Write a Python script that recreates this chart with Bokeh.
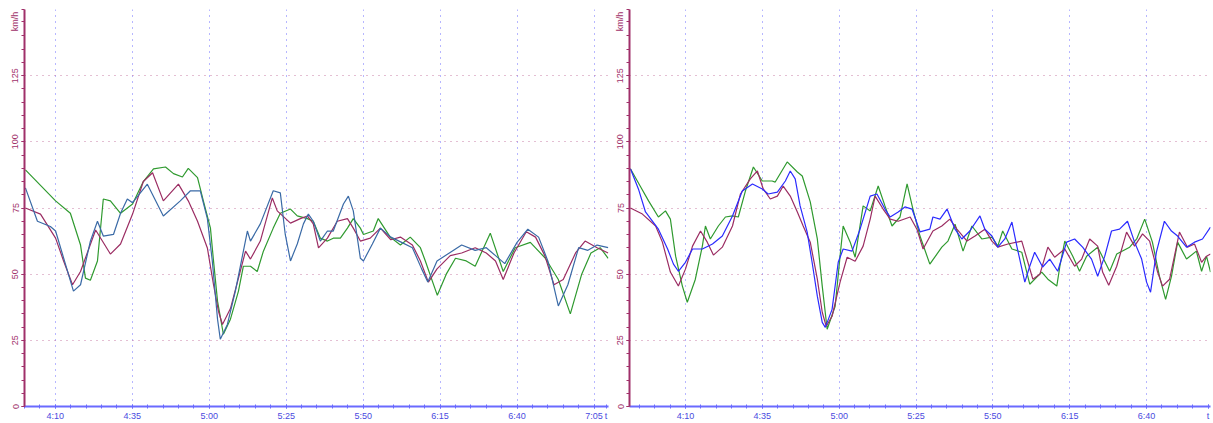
import math
from bokeh.plotting import figure
from bokeh.layouts import row
from bokeh.models import FixedTicker, Range1d
from bokeh.embed import file_html
from bokeh.resources import INLINE

# ---------------- data (time in minutes, e.g. 250 = 4:10; speed in km/h) ----------------
L_green_t = [240.3, 250.1, 254.9, 258.2, 259.8, 261.4, 263.7, 265.6, 267.9, 271.2, 275.1, 278.6, 281.9, 285.8,
             288.4, 291.3, 293.2, 296.2, 298.1, 300.4, 301.4, 302.7, 304.6, 306.9, 309.5, 311.1, 313.4, 315.6,
             317.6, 320.8, 323.1, 326.4, 328.6, 331.9, 333.8, 336.1, 338.4, 340.3, 342.6, 344.9, 346.8, 349.1,
             350.1, 353.3, 354.9, 358.8, 362.1, 365.3, 368.6, 370.2, 374.1, 377.0, 380.0, 383.5, 386.4, 391.3,
             395.5, 399.4, 404.3, 409.2, 413.4, 417.3, 421.0, 424.0, 427.0, 429.6]
L_green_v = [89.4, 77.7, 73.0, 61.0, 48.5, 47.7, 55.0, 78.4, 77.7, 73.0, 76.5, 85.0, 89.8, 90.5,
             88.0, 86.7, 90.0, 86.5, 77.7, 67.4, 55.0, 39.8, 27.3, 33.0, 43.6, 53.0, 53.0, 51.0,
             58.7, 67.4, 73.0, 74.6, 72.0, 71.0, 70.0, 63.6, 62.5, 63.6, 63.6, 67.4, 71.0, 67.4,
             65.0, 66.3, 71.0, 64.0, 61.0, 64.0, 60.0, 55.0, 42.0, 50.0, 56.0, 55.0, 53.0, 65.5,
             51.0, 60.0, 62.0, 56.0, 48.0, 35.0, 50.0, 58.0, 60.0, 56.0]

L_red_t = [240.3, 245.2, 250.1, 252.7, 255.6, 258.2, 263.1, 267.9, 271.2, 275.1, 278.6, 281.6, 285.1, 290.0,
           293.2, 296.2, 299.4, 301.4, 303.0, 304.3, 306.9, 309.5, 311.8, 313.4, 316.6, 320.5, 322.1, 326.4,
           329.6, 331.9, 333.8, 335.5, 338.4, 341.6, 344.9, 346.8, 349.1, 352.3, 355.6, 359.0, 362.1, 366.0,
           368.6, 371.2, 374.0, 378.3, 382.0, 386.4, 390.0, 393.0, 395.5, 399.0, 403.0, 406.0, 409.0, 412.0,
           415.0, 419.0, 422.1, 426.0, 429.6]
L_red_v = [75.0, 72.7, 63.6, 55.0, 46.0, 51.0, 66.7, 57.6, 61.4, 72.7, 85.0, 88.3, 77.7, 84.0,
           77.7, 70.0, 59.9, 46.0, 36.0, 31.0, 37.0, 48.5, 58.7, 55.7, 62.5, 78.8, 73.9, 69.3,
           71.0, 72.0, 69.0, 59.9, 63.6, 70.0, 71.0, 67.4, 62.5, 63.6, 67.4, 63.0, 64.0, 61.0,
           55.0, 47.0, 52.0, 57.0, 58.0, 60.0, 58.0, 55.0, 48.0, 58.0, 66.0, 64.0, 57.0, 46.0,
           48.0, 58.0, 62.5, 60.0, 58.0]

L_blue_t = [240.3, 244.2, 248.4, 250.1, 253.3, 255.9, 258.2, 261.4, 263.7, 265.6, 268.9, 271.2, 273.4, 275.1,
            279.9, 285.1, 290.6, 293.9, 297.1, 299.4, 301.0, 302.7, 303.6, 305.9, 308.5, 312.4, 313.4, 316.6,
            320.8, 323.1, 324.7, 326.4, 328.6, 330.6, 332.2, 333.8, 336.1, 338.4, 340.3, 343.6, 345.2, 346.8,
            349.1, 350.1, 353.0, 355.6, 359.0, 362.5, 366.0, 369.0, 371.0, 374.0, 378.0, 382.0, 386.4, 390.0,
            393.0, 396.0, 400.0, 403.5, 407.0, 410.0, 413.4, 416.5, 420.0, 423.0, 426.0, 429.6]
L_blue_v = [82.6, 70.0, 68.0, 66.3, 53.8, 43.6, 46.0, 62.5, 70.0, 64.4, 65.0, 73.0, 78.4, 77.0,
            84.0, 72.0, 77.7, 81.5, 81.5, 71.0, 55.0, 33.0, 25.4, 31.0, 43.6, 66.3, 62.5, 69.0,
            81.5, 80.7, 65.0, 55.0, 61.4, 69.0, 72.7, 70.0, 62.5, 66.3, 66.3, 76.5, 79.5, 73.9,
            56.0, 55.0, 61.4, 67.4, 64.0, 62.0, 60.0, 52.0, 47.0, 55.0, 58.0, 61.0, 59.0, 60.0,
            57.0, 54.0, 62.0, 67.0, 64.0, 55.0, 38.0, 46.0, 60.0, 59.0, 61.0, 60.0]

R_green_t = [232.1, 235.4, 238.0, 241.2, 243.5, 245.1, 246.8, 249.0, 250.6, 253.2, 255.5, 256.5, 258.1, 260.7,
             263.0, 265.3, 267.2, 269.5, 272.1, 275.0, 278.2, 279.2, 283.1, 286.4, 288.0, 290.6, 292.9, 294.5,
             296.1, 298.7, 300.3, 301.3, 303.6, 305.2, 307.8, 310.1, 312.7, 314.9, 317.2, 319.8, 322.1, 324.0,
             326.3, 329.5, 333.4, 335.4, 337.7, 340.3, 343.2, 346.4, 349.7, 351.6, 353.2, 356.2, 359.4, 362.0,
             365.9, 367.9, 370.8, 371.8, 373.4, 376.0, 378.2, 380.5, 384.1, 388.0, 390.3, 394.5, 396.8, 399.4,
             401.9, 404.2, 406.2, 408.1, 410.1, 413.0, 416.2, 417.9, 419.5, 420.8]
R_green_v = [89.8, 83.0, 77.7, 71.6, 73.9, 70.8, 56.8, 45.5, 39.4, 48.0, 60.6, 68.2, 63.3, 68.2,
             71.6, 72.0, 71.6, 81.4, 90.5, 85.2, 85.2, 84.8, 92.4, 88.6, 87.1, 77.3, 63.3, 45.5,
             29.2, 37.9, 56.8, 68.2, 62.1, 56.4, 75.8, 73.9, 83.3, 75.8, 68.2, 71.6, 84.1, 74.6,
             64.4, 53.8, 60.2, 62.5, 68.9, 58.7, 68.2, 63.3, 64.0, 60.6, 66.3, 59.5, 58.3, 46.2,
             50.8, 48.1, 45.5, 53.0, 62.5, 56.8, 51.1, 56.8, 60.2, 51.1, 57.6, 60.2, 63.3, 70.8,
             62.1, 49.2, 40.5, 49.2, 62.1, 55.7, 58.7, 51.1, 56.8, 50.8]

R_red_t = [232.1, 236.0, 240.3, 242.5, 245.1, 247.7, 250.0, 252.3, 254.9, 257.1, 259.1, 262.0, 265.3, 267.9,
           271.1, 273.4, 275.3, 277.6, 279.9, 281.8, 284.1, 286.4, 288.3, 290.6, 292.9, 294.5, 295.8, 297.7,
           300.3, 302.6, 305.2, 307.8, 310.1, 311.7, 314.3, 316.6, 319.2, 323.1, 325.3, 327.3, 330.5, 333.4,
           336.0, 338.3, 341.6, 344.2, 347.4, 349.7, 351.6, 354.9, 359.4, 361.4, 363.0, 365.3, 367.9, 370.1,
           373.4, 376.6, 378.9, 381.5, 384.1, 385.7, 387.7, 390.3, 393.5, 396.1, 398.7, 401.0, 403.6, 405.2,
           407.5, 410.7, 413.3, 415.6, 417.9, 419.5, 420.8]
R_red_v = [75.0, 72.7, 68.2, 62.1, 50.8, 45.5, 51.9, 60.6, 66.3, 62.1, 57.2, 60.2, 68.2, 80.3,
           86.0, 89.0, 82.2, 78.4, 79.5, 83.3, 79.5, 73.5, 68.2, 62.1, 48.1, 35.6, 30.3, 34.1,
           47.0, 56.4, 54.9, 60.6, 70.8, 79.5, 74.6, 70.8, 70.0, 71.6, 67.0, 59.5, 66.3, 68.2,
           70.8, 67.0, 62.5, 64.4, 67.0, 62.5, 60.2, 61.4, 62.5, 54.5, 48.1, 50.0, 60.2, 56.4,
           59.5, 53.0, 55.7, 63.3, 60.6, 50.8, 45.8, 53.0, 65.9, 60.6, 65.2, 62.5, 50.8, 45.5,
           48.1, 65.9, 60.2, 61.4, 54.5, 56.8, 57.6]

R_blue_t = [232.1, 234.7, 237.0, 241.2, 244.2, 246.1, 247.7, 250.0, 252.3, 255.5, 258.8, 262.0, 265.3, 268.5,
            271.8, 275.0, 276.9, 279.9, 282.5, 284.1, 285.7, 287.3, 289.6, 291.2, 292.9, 294.5, 295.5, 297.7,
            299.7, 301.3, 304.2, 306.8, 310.1, 312.3, 314.9, 316.6, 319.2, 321.4, 323.7, 326.3, 329.5, 330.5,
            332.8, 335.1, 337.7, 339.9, 342.5, 345.8, 347.4, 349.7, 351.6, 353.9, 356.2, 357.8, 360.4, 362.0,
            363.6, 366.2, 368.5, 371.1, 374.0, 376.6, 379.2, 382.1, 384.1, 386.4, 388.6, 391.2, 393.8, 396.1,
            398.4, 400.0, 401.3, 403.2, 405.8, 408.1, 410.1, 413.0, 415.6, 418.2, 420.8]
R_blue_v = [89.8, 82.2, 73.5, 67.0, 59.5, 53.8, 51.1, 54.5, 59.5, 59.5, 61.4, 64.4, 72.0, 81.4,
            84.1, 82.2, 80.3, 81.0, 85.2, 89.0, 86.0, 75.8, 65.9, 54.5, 41.7, 31.8, 29.9, 36.7,
            54.5, 59.5, 58.7, 67.0, 79.5, 80.3, 74.6, 71.6, 73.5, 75.4, 74.6, 66.0, 67.0, 71.6,
            70.8, 74.6, 67.0, 63.3, 66.3, 72.0, 67.0, 64.4, 60.2, 63.3, 69.7, 60.6, 47.0, 53.0,
            58.3, 52.7, 55.7, 51.1, 62.1, 63.3, 60.2, 55.7, 49.2, 56.8, 66.3, 67.0, 70.0, 62.1,
            55.7, 47.0, 43.2, 58.3, 70.0, 66.3, 64.4, 60.2, 62.1, 63.3, 67.8]

L_ticks = [250, 275, 300, 325, 350, 375, 400, 425]
L_tick_labels = ["4:10", "4:35", "5:00", "5:25", "5:50", "6:15", "6:40", "7:05"]
R_ticks = [250, 275, 300, 325, 350, 375, 400]
R_tick_labels = ["4:10", "4:35", "5:00", "5:25", "5:50", "6:15", "6:40"]
Y_ticks = [0, 25, 50, 75, 100, 125, 145.5]
Y_tick_labels = ["0", "25", "50", "75", "100", "125", "km/h"]
X_unit = "t"

GREEN = "#2f9a2f"
RED = "#9b2d63"
BLUE_L = "#3a6aa6"
BLUE_R = "#2b2bff"
YCOL = "#a0306a"
XCOL = "#6a6aff"
XLAB = "#4a4ae0"
FONT = "Liberation Sans"

H = 423


def panel(x0, x1, ticks, labels, series, width, bl, br):
    p = figure(width=width, height=H, output_backend="svg", toolbar_location=None,
               x_range=Range1d(x0, x1), y_range=Range1d(0, 150),
               min_border_left=bl, min_border_right=br, min_border_top=9, min_border_bottom=0)
    p.outline_line_color = None
    p.background_fill_color = "white"
    p.border_fill_color = "white"

    # y axis
    ya = p.yaxis[0]
    minor_y = [v for v in range(0, 151, 5) if v != 145]
    ya.ticker = FixedTicker(ticks=Y_ticks, minor_ticks=minor_y)
    ya.major_label_overrides = {t: s for t, s in zip(Y_ticks, Y_tick_labels)}
    ya.major_label_orientation = "vertical"
    ya.axis_line_color = YCOL
    ya.axis_line_width = 2
    ya.major_tick_line_color = YCOL
    ya.minor_tick_line_color = YCOL
    ya.major_tick_in = 0
    ya.major_tick_out = 3
    ya.minor_tick_in = 0
    ya.minor_tick_out = 3
    ya.major_label_text_color = YCOL
    ya.major_label_text_font = FONT
    ya.major_label_text_font_size = "9px"
    ya.major_label_standoff = 1

    # x axis
    xa = p.xaxis[0]
    minor = [x for x in range(int(x0) - int(x0) % 5, int(x1) + 1, 5) if x >= x0]
    xa.ticker = FixedTicker(ticks=ticks + [x1 - 0.8], minor_ticks=minor)
    ov = {t: s for t, s in zip(ticks, labels)}
    ov[x1 - 0.8] = X_unit
    xa.major_label_overrides = ov
    xa.axis_line_color = XCOL
    xa.axis_line_width = 2
    xa.major_tick_line_color = XCOL
    xa.minor_tick_line_color = XCOL
    xa.major_tick_in = 2
    xa.major_tick_out = 2
    xa.minor_tick_in = 2
    xa.minor_tick_out = 2
    xa.major_label_text_color = XLAB
    xa.major_label_text_font = FONT
    xa.major_label_text_font_size = "9px"
    xa.major_label_standoff = 2

    # grids
    p.ygrid.ticker = FixedTicker(ticks=[25, 50, 75, 100, 125])
    p.ygrid.grid_line_color = "#c97fa6"
    p.ygrid.grid_line_dash = "1 5"
    p.xgrid.ticker = FixedTicker(ticks=ticks)
    p.xgrid.grid_line_color = "#6f6fff"
    p.xgrid.grid_line_dash = "1 5"

    for xs, ys, c in series:
        p.line(xs, ys, line_color=c, line_width=1.2)
    return p


p1 = panel(240.0, 429.7, L_ticks, L_tick_labels,
           [(L_green_t, L_green_v, GREEN), (L_red_t, L_red_v, RED), (L_blue_t, L_blue_v, BLUE_L)],
           612, 24, 4)
p2 = panel(231.8, 420.8, R_ticks, R_tick_labels,
           [(R_green_t, R_green_v, GREEN), (R_red_t, R_red_v, RED), (R_blue_t, R_blue_v, BLUE_R)],
           601, 17, 3)

layout = row(p1, p2)
open("out.html", "w").write(file_html(layout, INLINE))
